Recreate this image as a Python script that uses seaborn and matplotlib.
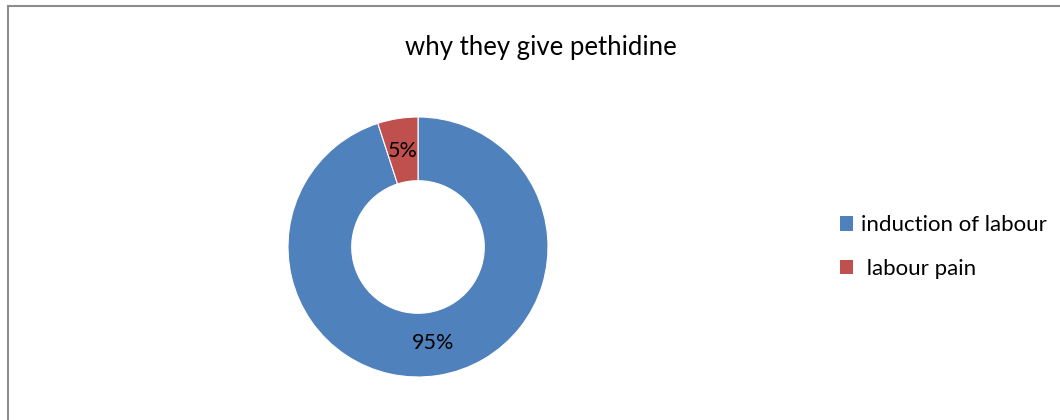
import matplotlib
matplotlib.use('Agg')
import matplotlib.pyplot as plt
import seaborn as sns
from matplotlib.patches import Rectangle, Patch

categories = ['induction of labour', ' labour pain']
values = [95, 5]
colors = ['#4F81BD', '#C0504D']
title = 'why they give pethidine'

sns.set_theme(style='white')
plt.rcParams['font.family'] = ['Lato', 'DejaVu Sans']
plt.rcParams['text.color'] = 'black'

fig = plt.figure(figsize=(10.6, 4.2), dpi=100)
# donut axes: centre (418,247), radius 130 px
ax = fig.add_axes([(418 - 130) / 1060, (420 - 247 - 130) / 420, 260 / 1060, 260 / 420])
wedges, texts, autotexts = ax.pie(values, colors=colors, startangle=90, counterclock=False,
                                  autopct='%1.0f%%', pctdistance=0.75, radius=1,
                                  wedgeprops=dict(width=0.49, edgecolor='white', linewidth=0.8),
                                  textprops=dict(fontsize=15.5, color='black'))
ax.set_xlim(-1, 1)
ax.set_ylim(-1, 1)
ax.set_aspect('equal')

fig.text(541 / 1060, 1 - 47 / 420, title, ha='center', va='center', fontsize=18.5)

handles = [Patch(facecolor=c, edgecolor='none') for c in colors]
fig.legend(handles, categories, loc='center left', bbox_to_anchor=(820 / 1060, 1 - 247 / 420),
           frameon=False, fontsize=16, handlelength=0.6, handleheight=0.6,
           handletextpad=0.35, labelspacing=1.05)

fig.patches.append(Rectangle((8 / 1060, -0.1), 1.2, 1.1 - 6.5 / 420, transform=fig.transFigure,
                             fill=False, edgecolor='#8c8c8c', linewidth=1.5))

fig.savefig('out.png', dpi=100)
